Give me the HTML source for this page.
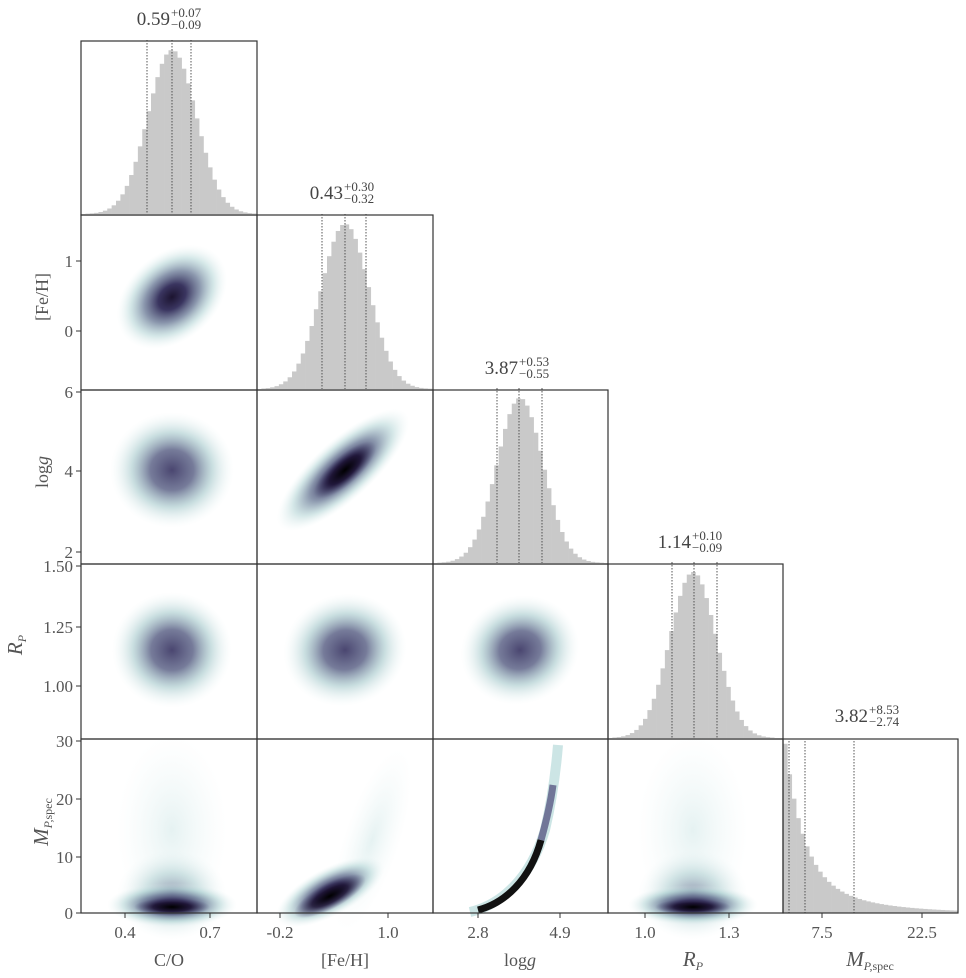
<!DOCTYPE html>
<html><head><meta charset="utf-8"><style>
html,body{margin:0;padding:0;background:#fff;}
svg{display:block;font-family:"Liberation Serif",serif;}
</style></head><body>
<svg id="s" width="966" height="978" viewBox="0 0 966 978" xmlns="http://www.w3.org/2000/svg">
<defs>
<radialGradient id="g1"><stop offset="0" stop-color="#1c1430"/><stop offset="0.25" stop-color="#3a3560"/><stop offset="0.5" stop-color="#6d7c98" stop-opacity="0.8"/><stop offset="0.75" stop-color="#a9cfd0" stop-opacity="0.5"/><stop offset="1" stop-color="#e4f2f2" stop-opacity="0"/></radialGradient>
<radialGradient id="g2"><stop offset="0" stop-color="#4a4670"/><stop offset="0.35" stop-color="#5e6488" stop-opacity="0.85"/><stop offset="0.65" stop-color="#9cc3c6" stop-opacity="0.55"/><stop offset="1" stop-color="#e4f2f2" stop-opacity="0"/></radialGradient>
<radialGradient id="g3"><stop offset="0" stop-color="#000"/><stop offset="0.5" stop-color="#1a1030" stop-opacity="0.8"/><stop offset="1" stop-color="#4a4a75" stop-opacity="0"/></radialGradient>
<radialGradient id="g4"><stop offset="0" stop-color="#c6e2e2" stop-opacity="0.45"/><stop offset="1" stop-color="#e4f2f2" stop-opacity="0"/></radialGradient>
<radialGradient id="g5"><stop offset="0" stop-color="#5e6488" stop-opacity="0.7"/><stop offset="0.5" stop-color="#9cc3c6" stop-opacity="0.45"/><stop offset="1" stop-color="#e4f2f2" stop-opacity="0"/></radialGradient>
</defs>
<g id="content"></g>
</svg>
<script>
const C=document.getElementById('content');let h='';
const cx=[81,257,433,608,783,958], ry=[41,215,390,564,739,913];
function hist(x0,base,top,mu,sig,q){let n=40,w=175/n;let out='';
 for(let i=0;i<n;i++){let xc=x0+(i+.5)*w;let v=Math.exp(-0.5*Math.pow((xc-mu)/sig,2));let hh=v*(base-top);if(hh<0.3)continue;
 out+=`<rect x="${(x0+i*w).toFixed(2)}" y="${(base-hh).toFixed(2)}" width="${(w+0.3).toFixed(2)}" height="${hh.toFixed(2)}" fill="#c9c9c9"/>`;}
 q.forEach(x=>out+=`<line x1="${x}" y1="${top-10}" x2="${x}" y2="${base}" stroke="#444" stroke-width="0.9" stroke-dasharray="1.5,1.5"/>`);
 return out;}
h+=hist(81,214,50,172,24,[147,172,191]);
h+=hist(257,389,224,345,24,[322,345,366]);
h+=hist(433,563,398,520,23,[497,519,542]);
h+=hist(608,738,572,693,23,[672,694,717]);
{let n=40,w=175/n;for(let i=0;i<n;i++){let xc=783+(i+.5)*w;let v=Math.exp(-(xc-786)/18)*0.75+Math.exp(-(xc-786)/60)*0.25;let hh=v*(913-750);
 h+=`<rect x="${(783+i*w).toFixed(2)}" y="${(913-hh).toFixed(2)}" width="${(w+0.3).toFixed(2)}" height="${hh.toFixed(2)}" fill="#c9c9c9"/>`;}
 [789,805,854].forEach(x=>h+=`<line x1="${x}" y1="741" x2="${x}" y2="913" stroke="#444" stroke-width="0.9" stroke-dasharray="1.5,1.5"/>`);}
function el(x,y,rx,ry,rot,g){return `<ellipse cx="${x}" cy="${y}" rx="${rx}" ry="${ry}" transform="rotate(${rot} ${x} ${y})" fill="url(#${g})"/>`;}
h+=el(172,297,62,44,-40,'g1');
h+=el(172,470,62,58,0,'g2');
h+=el(343,470,85,30,-42,'g1')+el(345,470,40,14,-42,'g3');
h+=el(172,650,60,58,0,'g2');h+=el(345,650,62,56,-15,'g2');h+=el(520,650,60,54,-20,'g2');
h+=el(172,830,55,95,0,'g4')+el(172,895,55,45,0,'g5')+el(172,905,65,22,0,'g1')+el(172,907,38,9,0,'g3');
h+=el(372,840,28,95,18,'g4')+el(330,892,60,24,-28,'g1')+el(330,896,40,13,-28,'g3');
h+=`<path d="M470,912 C500,905 530,880 545,830 C552,800 556,770 558,745" fill="none" stroke="#b6dada" stroke-width="10" opacity="0.7"/>`;
h+=`<path d="M478,910 C505,903 530,880 541,840" fill="none" stroke="#111" stroke-width="7"/>`;
h+=`<path d="M541,840 C548,815 551,800 553,785" fill="none" stroke="#5a5a85" stroke-width="7" opacity="0.8"/>`;
h+=el(693,830,55,95,0,'g4')+el(693,895,55,45,0,'g5')+el(693,905,65,20,0,'g1')+el(693,907,38,8,0,'g3');
for(let r=0;r<5;r++)for(let c=0;c<=r;c++){h+=`<rect x="${cx[c]}" y="${ry[r]}" width="${cx[c+1]-cx[c]}" height="${ry[r+1]-ry[r]}" fill="none" stroke="#333" stroke-width="1.2"/>`;}
const T=[[172,'0.59','+0.07','−0.09',25],[345,'0.43','+0.30','−0.32',199],[520,'3.87','+0.53','−0.55',374],[693,'1.14','+0.10','−0.09',548],[870,'3.82','+8.53','−2.74',722]];
T.forEach(t=>{h+=`<text x="${t[0]-2}" y="${t[4]}" font-size="19" fill="#444" text-anchor="end">${t[1]}</text><text x="${t[0]-1}" y="${t[4]-8}" font-size="13" fill="#444">${t[2]}</text><text x="${t[0]-1}" y="${t[4]+4}" font-size="13" fill="#444">${t[3]}</text>`;});
const YT=[[261,'1'],[331,'0'],[392,'6'],[471,'4'],[552,'2'],[566,'1.50'],[627,'1.25'],[686,'1.00'],[741,'30'],[799,'20'],[857,'10'],[913,'0']];
YT.forEach(t=>{h+=`<line x1="76" y1="${t[0]}" x2="81" y2="${t[0]}" stroke="#333"/><text x="73" y="${t[0]+6}" font-size="17" fill="#555" text-anchor="end">${t[1]}</text>`;});
const XT=[[125,'0.4'],[210,'0.7'],[280,'-0.2'],[388,'1.0'],[478,'2.8'],[560,'4.9'],[645,'1.0'],[729,'1.3'],[822,'7.5'],[922,'22.5']];
XT.forEach(t=>{h+=`<line x1="${t[0]}" y1="913" x2="${t[0]}" y2="918" stroke="#333"/><text x="${t[0]}" y="938" font-size="17" fill="#555" text-anchor="middle">${t[1]}</text>`;});
h+=`<text x="169" y="966" font-size="18" fill="#555" text-anchor="middle">C/O</text>`;
h+=`<text x="345" y="966" font-size="18" fill="#555" text-anchor="middle">[Fe/H]</text>`;
h+=`<text x="520" y="966" font-size="18" fill="#555" text-anchor="middle">log<tspan font-style="italic">g</tspan></text>`;
h+=`<text x="693" y="966" font-size="21" fill="#555" text-anchor="middle" font-style="italic">R<tspan font-size="12" dy="4">P</tspan></text>`;
h+=`<text x="870" y="966" font-size="21" fill="#555" text-anchor="middle" font-style="italic">M<tspan font-size="12" dy="4">P,<tspan font-style="normal">spec</tspan></tspan></text>`;
h+=`<text transform="translate(48,297) rotate(-90)" font-size="18" fill="#555" text-anchor="middle">[Fe/H]</text>`;
h+=`<text transform="translate(48,472) rotate(-90)" font-size="18" fill="#555" text-anchor="middle">log<tspan font-style="italic">g</tspan></text>`;
h+=`<text transform="translate(22,645) rotate(-90)" font-size="21" fill="#555" text-anchor="middle" font-style="italic">R<tspan font-size="12" dy="4">P</tspan></text>`;
h+=`<text transform="translate(48,822) rotate(-90)" font-size="21" fill="#555" text-anchor="middle" font-style="italic">M<tspan font-size="12" dy="4">P,<tspan font-style="normal">spec</tspan></tspan></text>`;
C.innerHTML=h;
</script>
</body></html>
